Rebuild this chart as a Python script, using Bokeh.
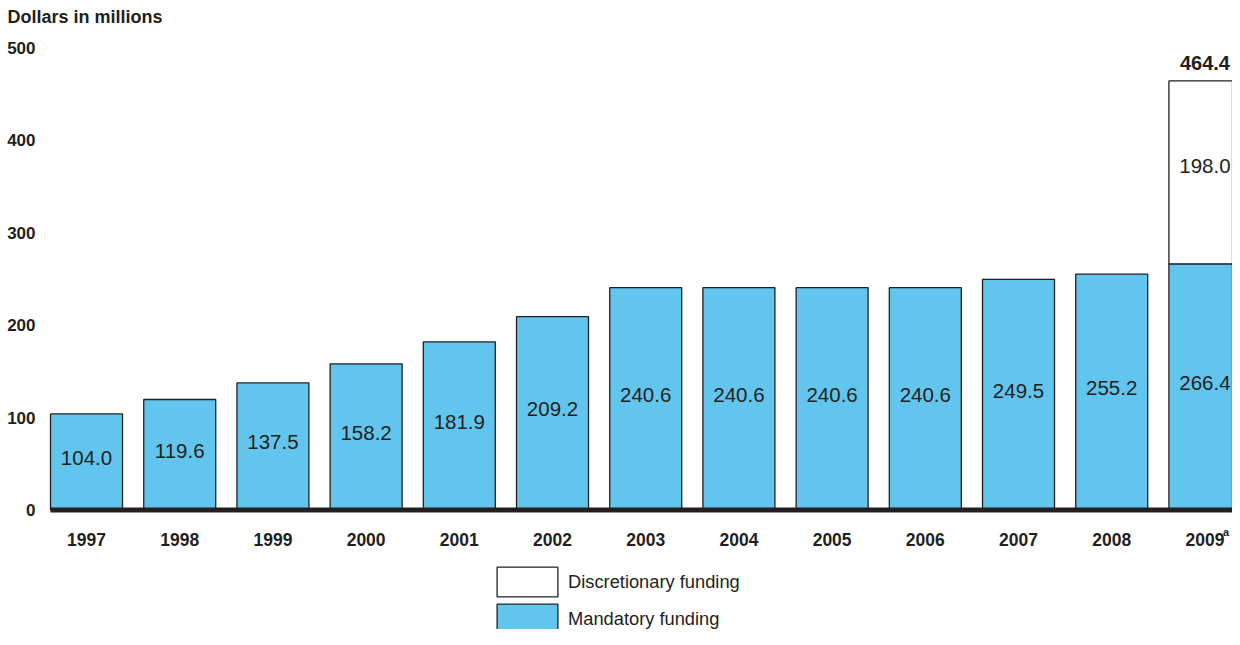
from bokeh.plotting import figure
from bokeh.models import ColumnDataSource, Range1d, Legend, LegendItem
from bokeh.core.properties import value
from bokeh.embed import file_html
from bokeh.resources import INLINE

# ---- data ----
years = [1997, 1998, 1999, 2000, 2001, 2002, 2003, 2004, 2005, 2006, 2007, 2008, 2009]
year_labels = ["1997", "1998", "1999", "2000", "2001", "2002", "2003", "2004",
               "2005", "2006", "2007", "2008", "2009"]
mandatory = [104.0, 119.6, 137.5, 158.2, 181.9, 209.2, 240.6, 240.6, 240.6, 240.6, 249.5, 255.2, 266.4]
disc_years = [2009]
discretionary = [198.0]
y_ticks = [0, 100, 200, 300, 400, 500]
y_tick_labels = ["0", "100", "200", "300", "400", "500"]
title_text = "Dollars in millions"
footnote_year = 2009
footnote_mark = "a"

BLUE = "#62c5ee"
INK = "#231f20"
FONT = "Liberation Sans"
BAR_W = 0.7725

p = figure(width=1232, height=629, output_backend="svg", toolbar_location=None,
           x_range=Range1d(1996.077, 2009.296), y_range=Range1d(-129.3, 551.4),
           x_axis_type=None, y_axis_type=None, min_border=0,
           background_fill_color="white", border_fill_color="white")
p.outline_line_color = None
p.xgrid.visible = False
p.ygrid.visible = False

# mandatory bars
msrc = ColumnDataSource(dict(x=years, top=mandatory,
                             mid=[m / 2 for m in mandatory],
                             lab=["%.1f" % m for m in mandatory]))
mand = p.vbar(x="x", top="top", bottom=0, width=BAR_W, source=msrc,
              fill_color=BLUE, line_color=INK, line_width=1.3)

# discretionary bars (stacked)
d_bottom = [mandatory[years.index(y)] for y in disc_years]
d_top = [b + d for b, d in zip(d_bottom, discretionary)]
dsrc = ColumnDataSource(dict(x=disc_years, bottom=d_bottom, top=d_top,
                             mid=[b + d / 2 for b, d in zip(d_bottom, discretionary)],
                             lab=["%.1f" % d for d in discretionary],
                             tot=["%.1f" % t for t in d_top]))
disc = p.vbar(x="x", top="top", bottom="bottom", width=BAR_W, source=dsrc,
              fill_color="white", line_color=INK, line_width=1.3)

# baseline
p.segment(x0=[years[0] - BAR_W / 2], y0=[0], x1=[years[-1] + 1], y1=[0],
          line_color=INK, line_width=5)

# value labels
p.text(x="x", y="mid", text="lab", source=msrc, text_align="center",
       text_baseline="middle", y_offset=-4, text_font=value(FONT),
       text_font_size="20.5px", text_color=INK)
p.text(x="x", y="mid", text="lab", source=dsrc, text_align="center",
       text_baseline="middle", y_offset=-6, text_font=value(FONT),
       text_font_size="20.5px", text_color=INK)
p.text(x="x", y="top", text="tot", source=dsrc, text_align="center",
       text_baseline="middle", y_offset=-18, text_font=value(FONT),
       text_font_size="20px", text_font_style="bold", text_color=INK)

# y tick labels
p.text(x=[years[0]] * len(y_ticks), y=y_ticks, text=y_tick_labels,
       x_offset=-51, text_align="right", text_baseline="middle",
       text_font=value(FONT), text_font_size="17px", text_font_style="bold",
       text_color=INK)

# axis title
p.text(x=[years[0]], y=[y_ticks[-1]], text=[title_text], x_offset=-79, y_offset=-31,
       text_align="left", text_baseline="middle", text_font=value(FONT),
       text_font_size="18px", text_font_style="bold", text_color=INK)

# x tick labels
p.text(x=years, y=[0] * len(years), text=year_labels, y_offset=29,
       text_align="center", text_baseline="middle", text_font=value(FONT),
       text_font_size="17.5px", text_font_style="bold", text_color=INK)
p.text(x=[footnote_year], y=[0], text=[footnote_mark], x_offset=18, y_offset=22,
       text_align="left", text_baseline="middle", text_font=value(FONT),
       text_font_size="11px", text_font_style="bold", text_color=INK)

# legend
legend = Legend(items=[LegendItem(label="Discretionary funding", renderers=[disc]),
                       LegendItem(label="Mandatory funding", renderers=[mand])],
                location=(489, -8), orientation="vertical",
                glyph_width=76, glyph_height=37, spacing=0, padding=0, margin=0,
                label_standoff=3, label_text_font=FONT, label_text_font_size="18.3px",
                label_text_color=INK, border_line_alpha=0, background_fill_alpha=0)
p.add_layout(legend, "center")

open("out.html", "w").write(file_html(p, INLINE))
